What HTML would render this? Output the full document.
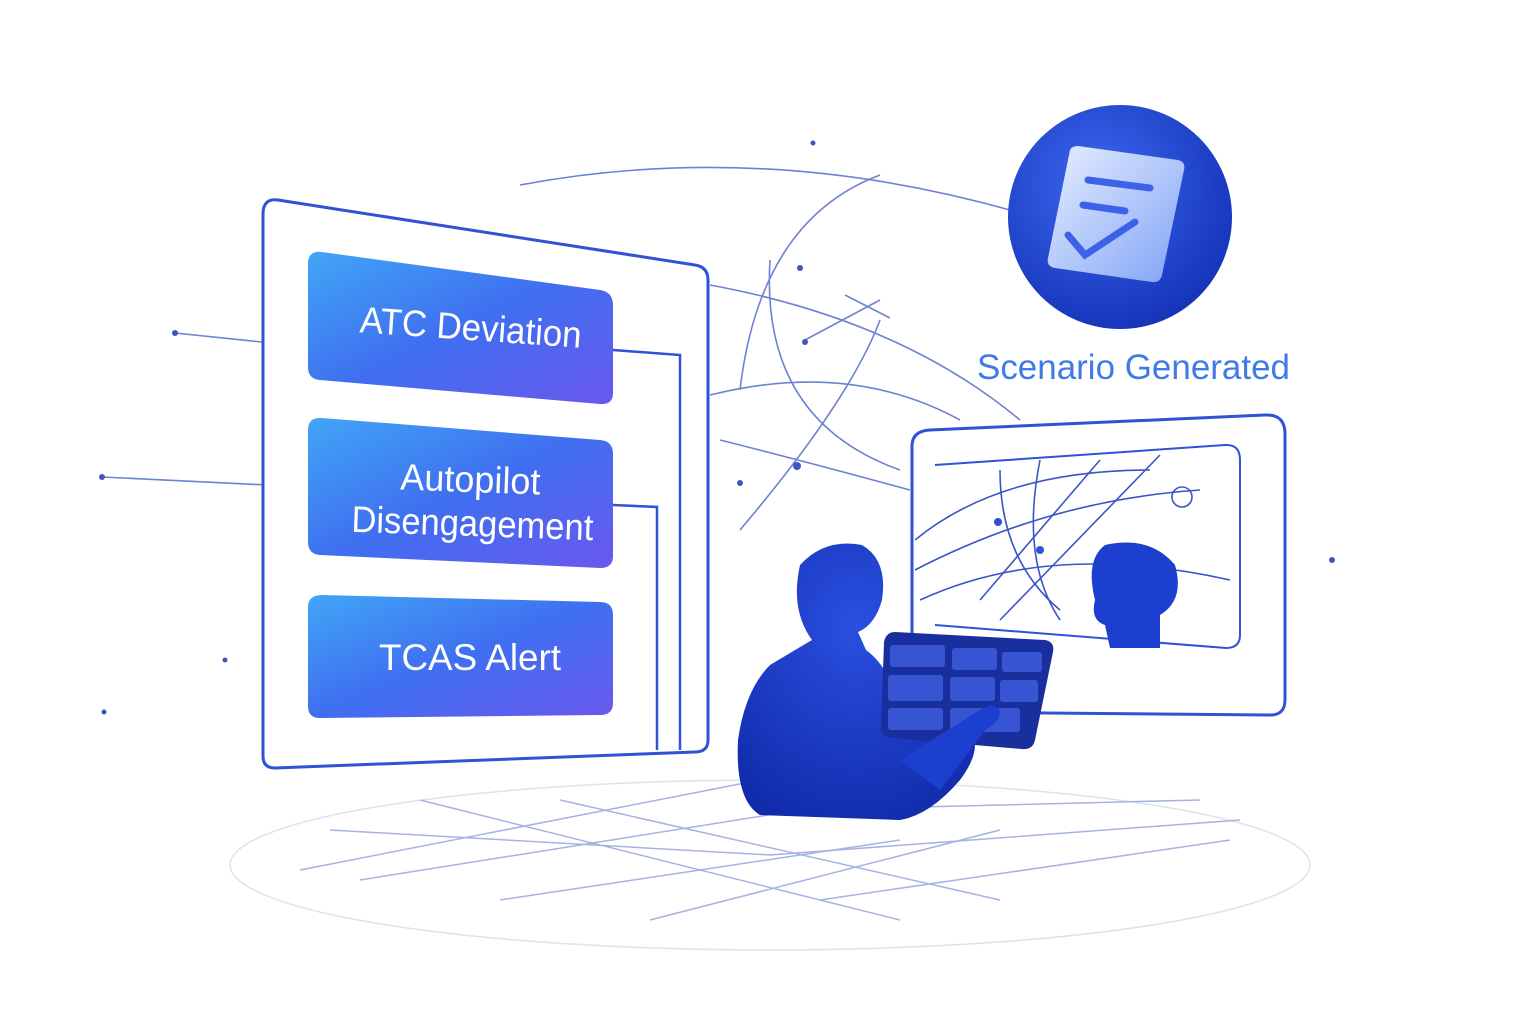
<!DOCTYPE html>
<html><head><meta charset="utf-8"><style>
html,body{margin:0;padding:0;background:#fff;}
svg{display:block}
text{font-family:"Liberation Sans",sans-serif}
</style></head><body>
<svg width="1536" height="1024" viewBox="0 0 1536 1024" xmlns="http://www.w3.org/2000/svg">
<defs>
<linearGradient id="btn" x1="0" y1="0" x2="1" y2="1">
<stop offset="0" stop-color="#41a6f6"/><stop offset="0.5" stop-color="#3f6ff0"/><stop offset="1" stop-color="#6a58ee"/>
</linearGradient>
<radialGradient id="circ" cx="0.4" cy="0.35" r="0.7">
<stop offset="0" stop-color="#3b68ee"/><stop offset="1" stop-color="#1432b8"/>
</radialGradient>
<linearGradient id="doc" x1="0" y1="0" x2="1" y2="1">
<stop offset="0" stop-color="#e8efff"/><stop offset="1" stop-color="#7fa2f6"/>
</linearGradient>
<radialGradient id="person" cx="0.5" cy="0.3" r="0.8">
<stop offset="0" stop-color="#2a4fe0"/><stop offset="1" stop-color="#0f2aa8"/>
</radialGradient>
</defs>
<g stroke="#6b7fcf" stroke-width="1.5" fill="none" opacity="0.6">
<ellipse cx="770" cy="865" rx="540" ry="85" stroke="#c8cfe8"/>
<path d="M330 830 L770 855 L1240 820"/>
<path d="M360 880 L800 810 L1200 800"/>
<path d="M300 870 L760 780"/>
<path d="M420 800 L900 920"/>
<path d="M560 800 L1000 900"/>
<path d="M650 920 L1000 830"/>
<path d="M500 900 L900 840"/>
<path d="M820 900 L1230 840"/>
</g>
<g stroke="#4a63c8" stroke-width="1.6" fill="none" opacity="0.8">
<path d="M520 185 Q760 140 1010 210"/>
<path d="M740 390 Q760 220 880 175"/>
<path d="M710 285 Q900 320 1020 420"/>
<path d="M710 395 Q850 360 960 420"/>
<path d="M740 530 Q850 400 880 320"/>
<path d="M720 440 Q800 460 910 490"/>
<path d="M805 340 L880 300"/>
<path d="M845 295 L890 318"/>
<path d="M770 260 Q760 420 900 470"/>
<path d="M175 333 L290 345"/>
<path d="M102 477 L288 486"/>
</g>
<g fill="#3f55c0">
<circle cx="175" cy="333" r="3"/><circle cx="102" cy="477" r="3"/><circle cx="800" cy="268" r="3"/>
<circle cx="805" cy="342" r="3"/><circle cx="797" cy="466" r="4"/><circle cx="740" cy="483" r="3"/>
<circle cx="225" cy="660" r="2.5"/><circle cx="104" cy="712" r="2.5"/><circle cx="1332" cy="560" r="3"/><circle cx="813" cy="143" r="2.5"/>
</g>
<path d="M278 200 L695 265 Q708 267 708 280 L708 740 Q708 752 695 752 L275 768 Q263 768 263 756 L263 214 Q263 198 278 200 Z" fill="#fff" stroke="#2f52d6" stroke-width="3"/>
<g stroke="#2f52d6" stroke-width="2.5" fill="none">
<path d="M613 350 L680 355 L680 750"/>
<path d="M613 505 L657 507 L657 750"/>
</g>
<path d="M322 252 L600 290 Q613 292 613 305 L613 393 Q613 405 600 404 L320 380 Q308 379 308 367 L308 264 Q308 250 322 252 Z" fill="url(#btn)"/>
<path d="M322 418 L600 440 Q613 441 613 454 L613 556 Q613 568 600 568 L320 555 Q308 554 308 542 L308 430 Q308 417 322 418 Z" fill="url(#btn)"/>
<path d="M322 595 L600 602 Q613 602 613 615 L613 703 Q613 715 600 715 L320 718 Q308 718 308 706 L308 607 Q308 595 322 595 Z" fill="url(#btn)"/>
<g fill="#fff" font-size="37" text-anchor="middle">
<text x="470" y="340" transform="rotate(4 470 340)" textLength="222" lengthAdjust="spacingAndGlyphs">ATC Deviation</text>
<text x="470" y="492" transform="rotate(2 470 492)" textLength="140" lengthAdjust="spacingAndGlyphs">Autopilot</text>
<text x="472" y="536" transform="rotate(2 472 536)" textLength="242" lengthAdjust="spacingAndGlyphs">Disengagement</text>
<text x="470" y="670" textLength="182" lengthAdjust="spacingAndGlyphs">TCAS Alert</text>
</g>
<circle cx="1120" cy="217" r="112" fill="url(#circ)"/>
<path d="M1070 150 Q1072 146 1078 146 L1178 160 Q1186 162 1184 170 L1162 275 Q1160 283 1152 282 L1055 268 Q1046 266 1048 258 Z" fill="url(#doc)"/>
<g stroke="#3b62e8" stroke-width="7" stroke-linecap="round" fill="none">
<path d="M1088 180 L1150 188"/><path d="M1083 205 L1125 211"/>
<path d="M1068 235 L1085 255 L1135 222"/>
</g>
<text x="977" y="379" font-size="35" fill="#3f7be6" textLength="313" lengthAdjust="spacingAndGlyphs">Scenario Generated</text>
<path d="M930 430 L1265 415 Q1285 414 1285 434 L1285 700 Q1285 716 1268 715 L928 712 Q912 712 912 696 L912 446 Q912 431 930 430 Z" fill="#fff" stroke="#2f52d6" stroke-width="3"/>
<path d="M935 465 L1225 445 Q1240 444 1240 460 L1240 635 Q1240 648 1226 648 L935 625" fill="none" stroke="#2f52d6" stroke-width="2"/>
<g stroke="#3a55c8" stroke-width="1.6" fill="none">
<path d="M915 540 Q1000 470 1150 470"/><path d="M915 570 Q1050 500 1200 490"/>
<path d="M920 600 Q1050 540 1230 580"/><path d="M1000 470 Q1000 560 1060 610"/>
<path d="M1040 460 Q1020 560 1060 620"/><path d="M1100 460 L980 600"/>
<path d="M1160 455 L1000 620"/><circle cx="1182" cy="497" r="10"/>
</g>
<circle cx="998" cy="522" r="4" fill="#2f52d6"/><circle cx="1040" cy="550" r="4" fill="#2f52d6"/>
<path d="M1105 545 Q1150 535 1175 565 Q1185 600 1160 615 L1160 648 L1110 648 L1105 625 Q1090 620 1095 600 Q1085 560 1105 545 Z" fill="#1d3fcf"/>
<path d="M800 565 Q825 538 862 545 Q888 560 882 600 Q875 625 858 632 L866 650 Q880 660 890 680 L960 720 Q990 740 960 780 Q930 815 900 820 L760 815 Q735 800 738 740 Q745 690 770 665 Q795 650 812 640 Q790 610 800 565 Z" fill="url(#person)"/>
<path d="M895 632 L1045 640 Q1055 642 1053 652 L1035 740 Q1033 750 1022 749 L892 738 Q880 737 881 726 L884 642 Q886 632 895 632 Z" fill="#1a2f9e"/>
<g fill="#3f5fe0" opacity="0.8">
<rect x="890" y="645" width="55" height="22" rx="3"/><rect x="952" y="648" width="45" height="22" rx="3"/><rect x="1002" y="652" width="40" height="20" rx="3"/>
<rect x="888" y="675" width="55" height="26" rx="3"/><rect x="950" y="677" width="45" height="24" rx="3"/><rect x="1000" y="680" width="38" height="22" rx="3"/>
<rect x="888" y="708" width="55" height="22" rx="3"/><rect x="950" y="708" width="70" height="24" rx="3"/>
</g>
<path d="M900 760 L980 710 Q995 700 1000 712 Q1000 722 985 730 L940 790 Z" fill="#1d3fcf"/>
</svg>
</body></html>
